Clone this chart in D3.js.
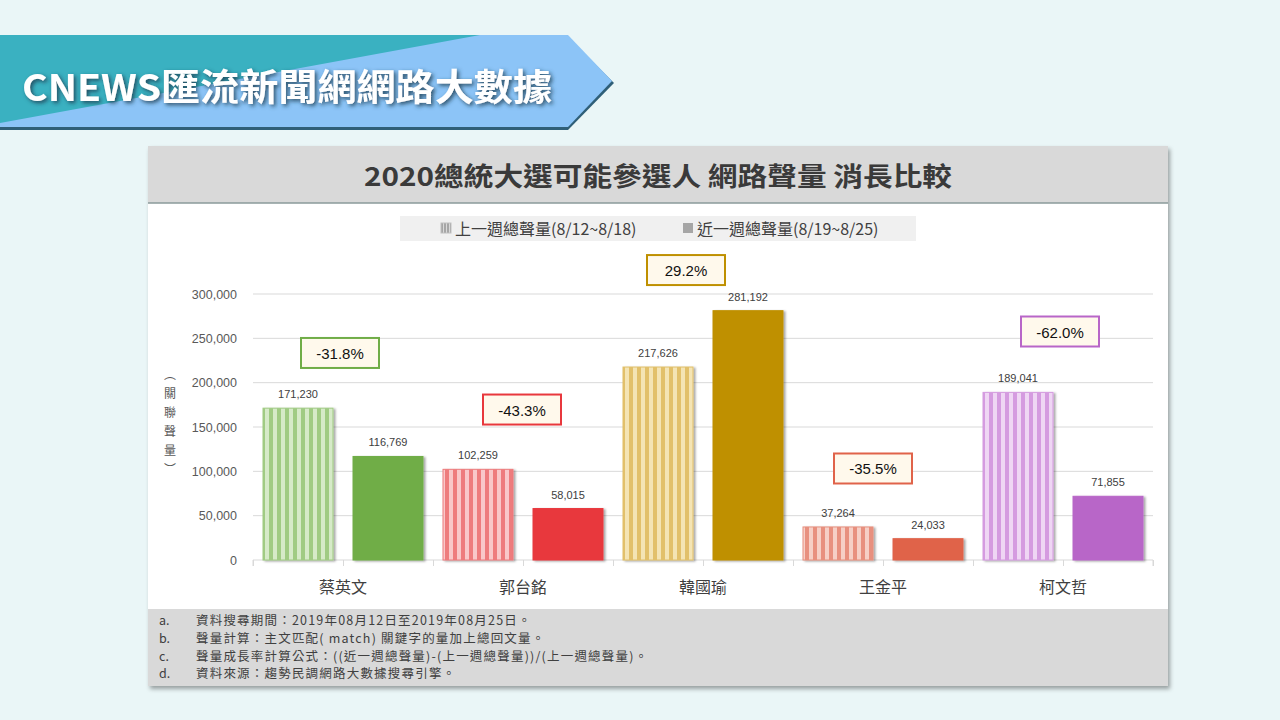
<!DOCTYPE html>
<html>
<head>
<meta charset="utf-8">
<script src="https://cdn.jsdelivr.net/npm/d3@7"></script>
<style>
  body { margin: 0; background: #eaf6f7; }
  svg { display: block; }
  text { font-family: "Noto Sans CJK TC", "Noto Sans", sans-serif; }
</style>
</head>
<body>
<div class="chart"></div>
<script>
// Data
var candidates = ["蔡英文", "郭台銘", "韓國瑜", "王金平", "柯文哲"];
var lastWeek = [171230, 102259, 217626, 37264, 189041];
var thisWeek = [116769, 58015, 281192, 24033, 71855];
var growth = ["-31.8%", "-43.3%", "29.2%", "-35.5%", "-62.0%"];
var yTicks = [0, 50000, 100000, 150000, 200000, 250000, 300000];
var seriesNames = ["上一週總聲量(8/12~8/18)", "近一週總聲量(8/19~8/25)"];
var notes = [
    ["a.", "資料搜尋期間：2019年08月12日至2019年08月25日。"],
    ["b.", "聲量計算：主文匹配( match) 關鍵字的量加上總回文量。"],
    ["c.", "聲量成長率計算公式：((近一週總聲量)-(上一週總聲量))/(上一週總聲量)。"],
    ["d.", "資料來源：趨勢民調網路大數據搜尋引擎。"]
];

// styling per candidate (solid colour, stripe colours)
var solidColors = ["#70ad47", "#e8383d", "#bf9000", "#e0634a", "#b866c8"];
var stripeDark = ["#a0cb83", "#ee7b7d", "#e2c06a", "#e8907f", "#d59be0"];
var stripeLight = ["#d6eac8", "#f9c8c9", "#f4e4b4", "#f6cfc6", "#efd6f4"];
// growth box placement (value-space centre and x nudge)
var boxCenter = [233500, 169700, 327000, 103200, 257700];
var boxNudge = [-3, -1, -17, -10, -3];

var svgWidth = 1280, svgHeight = 720;
var svg = d3.select(".chart").append("svg")
    .attr("width", svgWidth)
    .attr("height", svgHeight);

var defs = svg.append("defs");

var panelShadow = defs.append("filter").attr("id", "panelShadow")
    .attr("x", "-5%").attr("y", "-5%").attr("width", "110%").attr("height", "115%");
panelShadow.append("feDropShadow")
    .attr("dx", 2).attr("dy", 3).attr("stdDeviation", 2)
    .attr("flood-color", "#000").attr("flood-opacity", 0.35);

var barShadow = defs.append("filter").attr("id", "barShadow")
    .attr("x", "-10%").attr("y", "-10%").attr("width", "130%").attr("height", "130%");
barShadow.append("feDropShadow")
    .attr("dx", 2).attr("dy", 1).attr("stdDeviation", 1.2)
    .attr("flood-color", "#000").attr("flood-opacity", 0.35);

var textShadow = defs.append("filter").attr("id", "textShadow")
    .attr("x", "-5%").attr("y", "-20%").attr("width", "110%").attr("height", "150%");
textShadow.append("feDropShadow")
    .attr("dx", 2).attr("dy", 2).attr("stdDeviation", 2)
    .attr("flood-color", "#1d3f55").attr("flood-opacity", 0.9);

// stripe patterns
candidates.forEach(function(c, i) {
    var p = defs.append("pattern").attr("id", "stripe" + i)
        .attr("patternUnits", "userSpaceOnUse")
        .attr("width", 8).attr("height", 10);
    p.append("rect").attr("width", 8).attr("height", 10).attr("fill", stripeDark[i]);
    p.append("rect").attr("x", 4).attr("width", 4).attr("height", 10).attr("fill", stripeLight[i]);
});
var gp = defs.append("pattern").attr("id", "stripeGray")
    .attr("patternUnits", "userSpaceOnUse").attr("width", 3).attr("height", 10);
gp.append("rect").attr("width", 3).attr("height", 10).attr("fill", "#a6a6a6");
gp.append("rect").attr("x", 2).attr("width", 1).attr("height", 10).attr("fill", "#d9d9d9");

// Banner
var banner = svg.append("g");
banner.append("polygon")
    .attr("points", "0,37 568,37 614,83 568,130 0,130")
    .attr("fill", "#2f5f78");
banner.append("polygon")
    .attr("points", "0,35 568,35 612,81 568,127 0,127")
    .attr("fill", "#8cc4f7");
banner.append("polygon")
    .attr("points", "0,35 480,35 0,123")
    .attr("fill", "#3ab1c1");
banner.append("text")
    .attr("x", 22).attr("y", 101)
    .attr("font-size", 37)
    .attr("font-weight", "bold")
    .attr("fill", "#ffffff")
    .attr("textLength", 530)
    .attr("lengthAdjust", "spacingAndGlyphs")
    .attr("filter", "url(#textShadow)")
    .text("CNEWS匯流新聞網網路大數據");

// Panel
var panel = { x: 148, y: 146, w: 1020, h: 540 };
svg.append("rect")
    .attr("x", panel.x).attr("y", panel.y)
    .attr("width", panel.w).attr("height", panel.h)
    .attr("fill", "#ffffff")
    .attr("filter", "url(#panelShadow)");
svg.append("rect")
    .attr("x", panel.x).attr("y", panel.y)
    .attr("width", panel.w).attr("height", 57)
    .attr("fill", "#d9d9d9");
svg.append("line")
    .attr("x1", panel.x).attr("x2", panel.x + panel.w)
    .attr("y1", 203).attr("y2", 203)
    .attr("stroke", "#8a9a9a").attr("stroke-width", 1.5);
svg.append("text")
    .attr("x", 364).attr("y", 186)
    .attr("font-size", 26)
    .attr("font-weight", "bold")
    .attr("fill", "#3a3a3a")
    .attr("textLength", 588)
    .attr("lengthAdjust", "spacingAndGlyphs")
    .text("2020總統大選可能參選人  網路聲量  消長比較");

svg.append("rect")
    .attr("x", panel.x).attr("y", 609)
    .attr("width", panel.w).attr("height", 77)
    .attr("fill", "#d9d9d9");
var noteGroup = svg.append("g");
notes.forEach(function(n, i) {
    noteGroup.append("text")
        .attr("x", 159).attr("y", 625 + i * 17.8)
        .attr("font-size", 12.5).attr("fill", "#404040")
        .text(n[0]);
    noteGroup.append("text")
        .attr("x", 196).attr("y", 625 + i * 17.8)
        .attr("font-size", 12.5).attr("fill", "#404040")
        .attr("letter-spacing", 1.2)
        .text(n[1]);
});

// Legend
svg.append("rect")
    .attr("x", 400).attr("y", 216)
    .attr("width", 516).attr("height", 25)
    .attr("fill", "#f0f0f0");
var legendX = [441, 683];
seriesNames.forEach(function(name, i) {
    svg.append("rect")
        .attr("x", legendX[i]).attr("y", 223)
        .attr("width", 10).attr("height", 10)
        .attr("fill", i === 0 ? "url(#stripeGray)" : "#a6a6a6")
        .attr("stroke", i === 0 ? "#bfbfbf" : "none");
    svg.append("text")
        .attr("x", legendX[i] + 14).attr("y", 234.5)
        .attr("font-size", 16).attr("fill", "#404040")
        .text(name);
});

// Plot
var margin = { left: 253, top: 294 };
var width = 900, height = 266;
var chartGroup = svg.append("g")
    .attr("transform", `translate(${margin.left}, ${margin.top})`);

var xScale = d3.scaleBand().domain(candidates).range([0, width]);
var yScale = d3.scaleLinear().domain([0, 300000]).range([height, 0]);

chartGroup.append("g")
    .selectAll("line")
    .data(yTicks.slice(1))
    .enter().append("line")
    .attr("x1", 0).attr("x2", width)
    .attr("y1", d => yScale(d)).attr("y2", d => yScale(d))
    .attr("stroke", "#d9d9d9").attr("stroke-width", 1);

var leftAxis = d3.axisLeft(yScale)
    .tickValues(yTicks)
    .tickFormat(d3.format(","))
    .tickSize(0).tickPadding(16);
var yAxisG = chartGroup.append("g").call(leftAxis);
yAxisG.select(".domain").remove();
yAxisG.selectAll("text")
    .attr("font-size", 12.5)
    .attr("fill", "#595959")
    .style("font-family", "'Liberation Sans', Arial, sans-serif");

// x axis with ticks at band edges and midpoints
var tickScale = d3.scaleLinear().domain([0, 10]).range([0, width]);
var xAxisG = chartGroup.append("g")
    .attr("transform", `translate(0, ${height})`)
    .call(d3.axisBottom(tickScale).ticks(10).tickSize(6).tickFormat(""));
xAxisG.select(".domain").attr("stroke", "#d9d9d9").attr("d", `M0,6V0H${width}V6`);
xAxisG.selectAll(".tick line").attr("stroke", "#d9d9d9");

chartGroup.append("g")
    .selectAll("text")
    .data(candidates)
    .enter().append("text")
    .attr("x", d => xScale(d) + xScale.bandwidth() / 2)
    .attr("y", height + 33)
    .attr("text-anchor", "middle")
    .attr("font-size", 16)
    .attr("fill", "#404040")
    .text(d => d);

// y axis title
chartGroup.append("text")
    .attr("x", 170 - margin.left)
    .attr("y", 425 - margin.top)
    .attr("text-anchor", "middle")
    .style("writing-mode", "vertical-rl")
    .attr("letter-spacing", 7)
    .attr("font-size", 12)
    .attr("fill", "#595959")
    .text("（關聯聲量）");

// Bars
var barW = 70;
var barData = [];
candidates.forEach(function(c, i) {
    barData.push({ cand: c, i: i, s: 0, value: lastWeek[i] });
    barData.push({ cand: c, i: i, s: 1, value: thisWeek[i] });
});
var barX = d => xScale(d.cand) + (d.s === 0 ? 10 : 100);

chartGroup.append("g")
    .selectAll("rect")
    .data(barData)
    .enter().append("rect")
    .attr("x", barX)
    .attr("y", d => yScale(d.value))
    .attr("width", barW)
    .attr("height", d => height - yScale(d.value))
    .attr("fill", d => d.s === 0 ? `url(#stripe${d.i})` : solidColors[d.i])
    .attr("stroke", d => d.s === 0 ? stripeDark[d.i] : solidColors[d.i])
    .attr("stroke-width", 1)
    .attr("filter", "url(#barShadow)");

chartGroup.append("g")
    .selectAll("text")
    .data(barData)
    .enter().append("text")
    .attr("x", d => barX(d) + barW / 2)
    .attr("y", d => yScale(d.value) - 10)
    .attr("text-anchor", "middle")
    .attr("font-size", 11)
    .attr("fill", "#404040")
    .style("font-family", "'Liberation Sans', Arial, sans-serif")
    .text(d => d3.format(",")(d.value));

// Growth boxes
var boxes = chartGroup.append("g")
    .selectAll("g")
    .data(candidates)
    .enter().append("g")
    .attr("transform", (d, i) => `translate(${xScale(d) + xScale.bandwidth() / 2 + boxNudge[i]}, ${yScale(boxCenter[i])})`);
boxes.append("rect")
    .attr("x", -39).attr("y", -15)
    .attr("width", 78).attr("height", 30)
    .attr("fill", "#fff9ec")
    .attr("stroke", (d, i) => solidColors[i])
    .attr("stroke-width", 2);
boxes.append("text")
    .attr("y", 6)
    .attr("text-anchor", "middle")
    .attr("font-size", 15)
    .attr("fill", "#111")
    .style("font-family", "'Liberation Sans', Arial, sans-serif")
    .text((d, i) => growth[i]);
</script>
</body>
</html>
